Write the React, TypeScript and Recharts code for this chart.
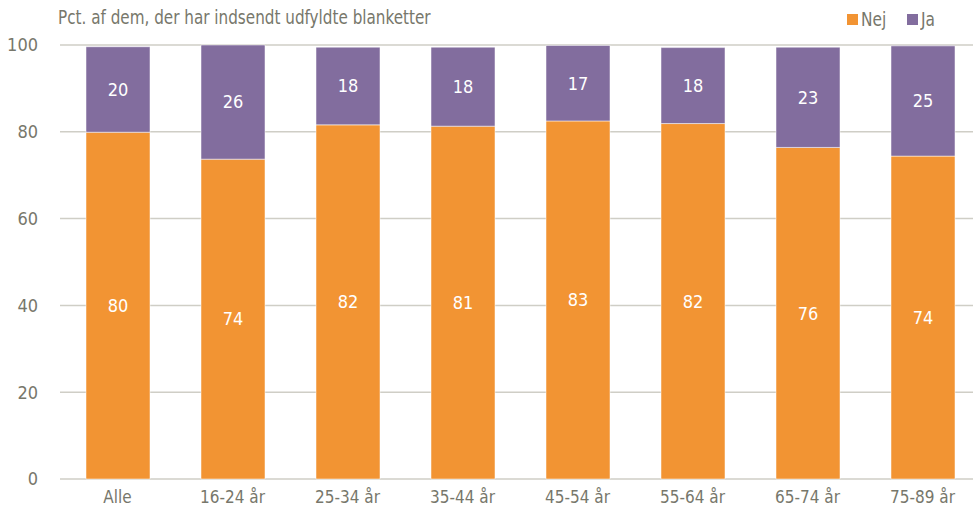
import { BarChart, Bar, XAxis, YAxis, CartesianGrid, LabelList } from "recharts";

const categories = ["Alle", "16-24 år", "25-34 år", "35-44 år", "45-54 år", "55-64 år", "65-74 år", "75-89 år"];
const nej = [79.9, 73.7, 81.6, 81.3, 82.5, 81.9, 76.4, 74.4];
const ja = [19.7, 26.3, 17.9, 18.2, 17.4, 17.5, 23.1, 25.4];
const yTicks = [0, 20, 40, 60, 80, 100];

const FONT = '"Liberation Sans Narrow", "DejaVu Sans Condensed", "Roboto", sans-serif';
const TEXT = "#77776b";
const ORANGE = "#F29433";
const PURPLE = "#826D9E";

const data = categories.map((name, i) => ({ name, Nej: nej[i], Ja: ja[i] }));

const legendItems = [
  { name: "Nej", color: ORANGE },
  { name: "Ja", color: PURPLE },
];

export default function App() {
  return (
    <div style={{ position: "absolute", left: 0, top: 0, width: 973, height: 517, overflow: "hidden", fontFamily: FONT }}>
      <div
        style={{
          position: "absolute",
          left: 58,
          top: 6,
          fontSize: 19,
          color: TEXT,
          whiteSpace: "nowrap",
          transform: "scaleX(0.89)",
          transformOrigin: "left top",
        }}
      >
        Pct. af dem, der har indsendt udfyldte blanketter
      </div>
      <div style={{ position: "absolute", left: 847, top: 8, display: "flex", alignItems: "center", fontSize: 19, color: TEXT }}>
        {legendItems.map((it) => (
          <div key={it.name} style={{ display: "flex", alignItems: "center", marginRight: 18 }}>
            <span style={{ width: 11, height: 11, background: it.color, display: "inline-block", marginRight: 3 }} />
            <span style={{ transform: "scaleX(0.9)", transformOrigin: "left center", display: "inline-block" }}>{it.name}</span>
          </div>
        ))}
      </div>
      <BarChart
        width={980}
        height={517}
        data={data}
        margin={{ top: 45, right: 0, left: 0, bottom: 0 }}
        barSize={64}
      >
        <CartesianGrid vertical={false} stroke="#cfcec6" strokeWidth={1.5} />
        <XAxis
          dataKey="name"
          axisLine={false}
          tickLine={false}
          height={38}
          tick={{ fontSize: 17, fill: TEXT, fontFamily: FONT }}
          tickMargin={6}
        />
        <YAxis
          domain={[0, 100]}
          ticks={yTicks}
          axisLine={false}
          tickLine={false}
          width={60}
          tick={{ fontSize: 18, fill: TEXT, fontFamily: FONT }}
          tickMargin={16}
        />
        <Bar dataKey="Nej" stackId="a" fill={ORANGE} stroke="#ffffff" strokeWidth={0.5} isAnimationActive={false}>
          <LabelList
            dataKey="Nej"
            position="center"
            formatter={(v: number) => Math.round(v)}
            style={{ fill: "#ffffff", fontSize: 18, fontFamily: FONT }}
          />
        </Bar>
        <Bar dataKey="Ja" stackId="a" fill={PURPLE} stroke="#ffffff" strokeWidth={0.5} isAnimationActive={false}>
          <LabelList
            dataKey="Ja"
            position="center"
            formatter={(v: number) => Math.round(v)}
            style={{ fill: "#ffffff", fontSize: 18, fontFamily: FONT }}
          />
        </Bar>
      </BarChart>
    </div>
  );
}
